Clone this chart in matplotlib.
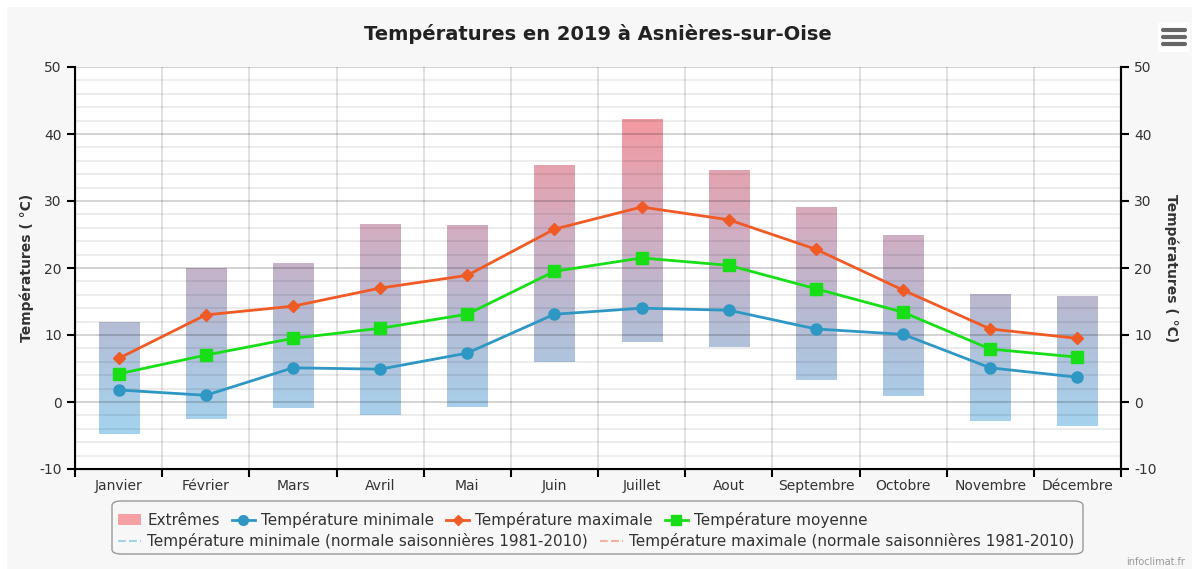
import matplotlib.pyplot as plt
import numpy as np
from matplotlib.colors import LinearSegmentedColormap
from matplotlib.lines import Line2D
from matplotlib.patches import Patch, FancyBboxPatch, Rectangle

plt.rcParams["axes.unicode_minus"] = False

months = ["Janvier", "Février", "Mars", "Avril", "Mai", "Juin", "Juillet",
          "Aout", "Septembre", "Octobre", "Novembre", "Décembre"]

extreme_low = [-4.8, -2.5, -0.9, -1.9, -0.7, 6.0, 9.0, 8.2, 3.3, 0.9, -2.9, -3.6]
extreme_high = [11.9, 20.0, 20.6, 26.6, 26.4, 35.4, 42.2, 34.5, 29.1, 24.9, 16.0, 15.7]
t_min = [1.8, 1.0, 5.1, 4.9, 7.3, 13.1, 14.0, 13.7, 10.9, 10.1, 5.1, 3.7]
t_max = [6.5, 13.0, 14.3, 17.0, 18.9, 25.8, 29.1, 27.2, 22.8, 16.7, 10.9, 9.5]
t_mean = [4.2, 7.0, 9.5, 11.0, 13.1, 19.5, 21.5, 20.4, 16.9, 13.4, 7.9, 6.7]

c_min = "#2f97c4"
c_max = "#f05a24"
c_mean = "#18de18"

fig = plt.figure(figsize=(11.92, 5.69), dpi=100)
fig.patch.set_facecolor("white")
fig.add_artist(Rectangle((7 / 1192, 0), 1, 1 - 7 / 569, transform=fig.transFigure,
                         facecolor="#f7f7f7", edgecolor="none", zorder=-10))

ax = fig.add_axes([75 / 1192, 1 - 469 / 569, (1121 - 75) / 1192, (469 - 67) / 569])
ax.set_facecolor("white")

x = np.arange(len(months))
cmap = LinearSegmentedColormap.from_list(
    "ext", [(0.0, "#a4d4f0"), (0.4, "#b8bad2"), (0.65, "#d2aec2"), (1.0, "#f29aa2")])
w = 0.46
for xi, lo, hi in zip(x, extreme_low, extreme_high):
    grad = np.linspace(lo, hi, 100).reshape(-1, 1)
    ax.imshow(grad, extent=[xi - w / 2, xi + w / 2, lo, hi], origin="lower",
              cmap=cmap, vmin=-5, vmax=42, aspect="auto", zorder=1)

ax.plot(x, t_min, color=c_min, lw=2, marker="o", ms=8, zorder=3)
ax.plot(x, t_max, color=c_max, lw=2, marker="D", ms=6, zorder=3)
ax.plot(x, t_mean, color=c_mean, lw=2, marker="s", ms=8, zorder=3)

ax.set_xlim(-0.5, 11.5)
ax.set_ylim(-10, 50)
ax.set_yticks(np.arange(-10, 51, 10))
ax.set_yticks(np.arange(-10, 51, 2), minor=True)
ax.set_xticks(x)
ax.set_xticklabels(months, fontsize=10, color="#333333")
ax.set_xticks(np.arange(-0.5, 12, 1), minor=True)
ax.tick_params(axis="x", which="major", length=0, pad=7)
ax.tick_params(axis="x", which="minor", length=6, width=1.5, direction="out")
ax.tick_params(axis="y", which="major", length=6, width=1.5, labelsize=10, labelcolor="#333333")
ax.tick_params(axis="y", which="minor", length=0)

# semi-transparent grid drawn over the bars, under the lines
ax.set_axisbelow("line")
ax.grid(axis="y", which="major", color="black", alpha=0.2, lw=1.2)
ax.grid(axis="y", which="minor", color="black", alpha=0.09, lw=1.2)
ax.grid(axis="x", which="minor", color="black", alpha=0.14, lw=1.2)

for s in ["left", "right", "bottom"]:
    ax.spines[s].set_linewidth(1.5)
ax.spines["top"].set_visible(False)
ax.set_ylabel("Températures ( °C)", fontsize=10, fontweight="bold", color="#333333")

ax2 = ax.twinx()
ax2.set_ylim(-10, 50)
ax2.set_yticks(np.arange(-10, 51, 10))
ax2.tick_params(axis="y", length=6, width=1.5, labelsize=10, labelcolor="#333333")
ax2.spines["top"].set_visible(False)
ax2.spines["right"].set_linewidth(1.5)
ax2.set_ylabel("Températures ( °C)", fontsize=10, fontweight="bold", color="#333333",
               rotation=270, labelpad=16)

fig.text(598 / 1192, 1 - 34 / 569, "Températures en 2019 à Asnières-sur-Oise",
         ha="center", va="center", fontsize=14, fontweight="bold", color="#222222")

# legend box
fig.add_artist(FancyBboxPatch((112 / 1192, 1 - 554 / 569), (1083 - 112) / 1192, 53 / 569,
                              boxstyle="round,pad=0,rounding_size=0.008",
                              transform=fig.transFigure, facecolor="#f7f7f7",
                              edgecolor="#999999", lw=1))
row1 = [
    Patch(facecolor="#f4a0a4", edgecolor="none"),
    Line2D([], [], color=c_min, lw=2, marker="o", ms=7),
    Line2D([], [], color=c_max, lw=2, marker="D", ms=5),
    Line2D([], [], color=c_mean, lw=2, marker="s", ms=7),
]
labels1 = ["Extrêmes", "Température minimale", "Température maximale", "Température moyenne"]
row2 = [
    Line2D([], [], color="#a0d0ea", lw=1.5, ls="--"),
    Line2D([], [], color="#f4b0a0", lw=1.5, ls="--"),
]
labels2 = ["Température minimale (normale saisonnières 1981-2010)",
           "Température maximale (normale saisonnières 1981-2010)"]
leg1 = fig.legend(row1, labels1, ncol=4, loc="center left", frameon=False,
                  bbox_to_anchor=(118 / 1192, 1 - 520 / 569), fontsize=11,
                  handlelength=1.5, handletextpad=0.4, columnspacing=0.8,
                  borderaxespad=0, borderpad=0)
leg2 = fig.legend(row2, labels2, ncol=2, loc="center left", frameon=False,
                  bbox_to_anchor=(118 / 1192, 1 - 541 / 569), fontsize=11,
                  handlelength=1.5, handletextpad=0.4, columnspacing=0.8,
                  borderaxespad=0, borderpad=0)
for leg in (leg1, leg2):
    for t in leg.get_texts():
        t.set_color("#333333")

fig.text(1185 / 1192, 1 - 562 / 569, "infoclimat.fr", ha="right", va="center",
         fontsize=7, color="#999999")

# menu icon
fig.add_artist(FancyBboxPatch((1158 / 1192, 1 - 52 / 569), 32 / 1192, 30 / 569,
                              boxstyle="round,pad=0,rounding_size=0.004",
                              transform=fig.transFigure, facecolor="white",
                              edgecolor="none"))
for yy in (30, 37, 44):
    fig.add_artist(Line2D([1163 / 1192, 1185 / 1192], [1 - yy / 569, 1 - yy / 569],
                          transform=fig.transFigure, color="#666666", lw=3,
                          solid_capstyle="round"))

fig.savefig("out.png", dpi=100)
